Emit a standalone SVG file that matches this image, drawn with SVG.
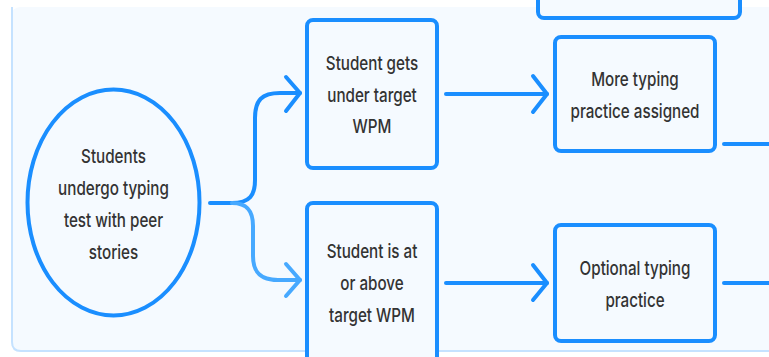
<svg xmlns="http://www.w3.org/2000/svg" width="769" height="357" viewBox="0 0 769 357">
<style>
.node{fill:#F5FAFF;stroke:#1A8EFF;stroke-width:4}
.conn{fill:none;stroke:#1A8EFF;stroke-width:4;stroke-linecap:round;stroke-linejoin:round}
.conn2{fill:none;stroke:#47A9FF;stroke-width:4;stroke-linecap:round;stroke-linejoin:round}
.t{font-family:Inter,"Noto Sans",sans-serif;font-size:19px;font-weight:500;fill:#333333;text-anchor:middle}
</style>
<rect x="0" y="0" width="769" height="357" fill="#FFFFFF"/>
<rect x="11" y="7" width="800" height="345" rx="9" fill="#F5FAFF"/>
<path d="M12,7 V342 Q12,351 21,351 H769" fill="none" stroke="#C5E2FF" stroke-width="2"/>
<g id="top-box"><rect class="node" x="538" y="-40" width="202" height="58" rx="6"/></g>
<g id="connectors">
<path class="conn" d="M210,203 H232 C250,203 255,195 255,180 V118 C255,100 262,93 280,93 H300"/>
<path class="conn" d="M286,77 L300,93 L286,111"/>
<path class="conn2" d="M232,203 C248,203 253,212 253,226 V256 C253,272 260,280 278,280 H300"/>
<path class="conn2" d="M286,264 L300,280 L286,296"/>
<path class="conn" d="M446,94 H547"/>
<path class="conn" d="M533,76 L547,94 L533,112"/>
<path class="conn" d="M446,283 H547"/>
<path class="conn" d="M533,265 L547,283 L533,300"/>
<path class="conn" d="M724,144 H775"/>
<path class="conn" d="M724,283 H775"/>
</g>
<g id="start">
<ellipse class="node" cx="113.5" cy="202.5" rx="86" ry="113"/>
<text class="t" transform="translate(113.5,163) scale(0.8,1)">Students</text>
<text class="t" transform="translate(113.5,195) scale(0.8,1)">undergo typing</text>
<text class="t" transform="translate(113.5,227) scale(0.8,1)">test with peer</text>
<text class="t" transform="translate(113.5,259) scale(0.8,1)">stories</text>
</g>
<g id="under">
<rect class="node" x="307" y="20" width="130" height="148" rx="6"/>
<text class="t" transform="translate(372,70) scale(0.8,1)">Student gets</text>
<text class="t" transform="translate(372,102) scale(0.8,1)">under target</text>
<text class="t" transform="translate(372,133) scale(0.8,1)">WPM</text>
</g>
<g id="above">
<rect class="node" x="307" y="203" width="130" height="180" rx="6"/>
<text class="t" transform="translate(372,258) scale(0.8,1)">Student is at</text>
<text class="t" transform="translate(372,290) scale(0.8,1)">or above</text>
<text class="t" transform="translate(372,322) scale(0.8,1)">target WPM</text>
</g>
<g id="more">
<rect class="node" x="555" y="37" width="160" height="114" rx="6"/>
<text class="t" transform="translate(635,86) scale(0.8,1)">More typing</text>
<text class="t" transform="translate(635,118) scale(0.8,1)">practice assigned</text>
</g>
<g id="optional">
<rect class="node" x="555" y="225" width="160" height="116" rx="6"/>
<text class="t" transform="translate(635,275) scale(0.8,1)">Optional typing</text>
<text class="t" transform="translate(635,307) scale(0.8,1)">practice</text>
</g>
</svg>
